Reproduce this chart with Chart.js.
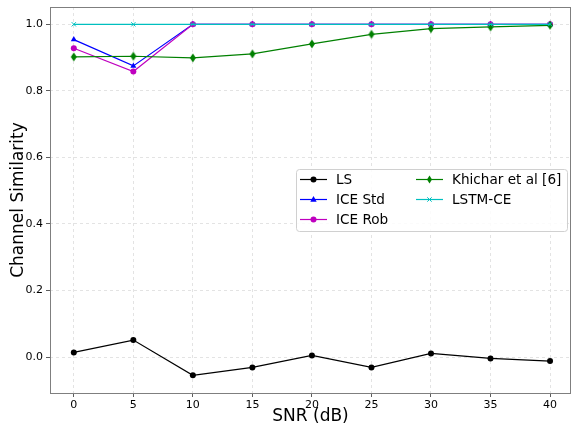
<!DOCTYPE html>
<html>
<head>
<meta charset="utf-8">
<script src="https://cdn.jsdelivr.net/npm/chart.js@4"></script>
<style>
  html, body { margin: 0; padding: 0; background: #fff; overflow: hidden; }
  #wrap { width: 571px; height: 430px; overflow: hidden; }
  #chart { display: block; }
</style>
</head>
<body>
<div id="wrap"><canvas id="chart" width="576" height="430"></canvas></div>
<script>
// SNR points (dB)
const snr = [0, 5, 10, 15, 20, 25, 30, 35, 40];
const xTicks = [0, 5, 10, 15, 20, 25, 30, 35, 40];
const yTicks = [0.0, 0.2, 0.4, 0.6, 0.8, 1.0];

const lsVals      = [0.014, 0.051, -0.055, -0.031, 0.005, -0.031, 0.011, -0.004, -0.012];
const iceStdVals  = [0.954, 0.875, 1.0, 1.0, 1.0, 1.0, 1.0, 1.0, 1.0];
const iceRobVals  = [0.928, 0.858, 1.0, 1.0, 1.0, 1.0, 1.0, 1.0, 1.0];
const khicharVals = [0.902, 0.904, 0.899, 0.911, 0.941, 0.970, 0.987, 0.992, 0.997];
const lstmVals    = [1.0, 1.0, 1.0, 1.0, 1.0, 1.0, 1.0, 1.0, 1.0];

const FONT = "'DejaVu Sans', sans-serif";

// thin diamond marker (matplotlib 'd')
function thinDiamond(color) {
    const c = document.createElement('canvas');
    c.width = 8; c.height = 10;
    const g = c.getContext('2d');
    g.fillStyle = color;
    g.beginPath();
    g.moveTo(4, 0.5); g.lineTo(7, 5); g.lineTo(4, 9.5); g.lineTo(1, 5);
    g.closePath();
    g.fill();
    return c;
}

function series(label, vals, color, style, radius, order) {
    return {
        label: label,
        data: snr.map((x, i) => ({ x: x, y: vals[i] })),
        borderColor: color,
        backgroundColor: color,
        pointBackgroundColor: color,
        pointBorderColor: color,
        pointStyle: style,
        pointRadius: radius,
        pointBorderWidth: style === 'crossRot' ? 1 : 0,
        borderWidth: 1.2,
        tension: 0,
        order: order
    };
}

const datasets = [
    series('LS', lsVals, '#000000', 'circle', 3, 4),
    series('ICE Std', iceStdVals, '#0000ff', 'triangle', 3.5, 3),
    series('ICE Rob', iceRobVals, '#bf00bf', 'circle', 3, 2),
    series('Khichar et al [6]', khicharVals, '#008000', thinDiamond('#008000'), 4, 1),
    series('LSTM-CE', lstmVals, '#00bfbf', 'crossRot', 3, 0)
];

// box around the plot area (all four spines)
const frame = {
    id: 'frame',
    afterDatasetsDraw(chart) {
        const a = chart.chartArea, ctx = chart.ctx;
        ctx.save();
        ctx.strokeStyle = '#7f7f7f';
        ctx.lineWidth = 1;
        ctx.strokeRect(a.left + 0.5, a.top + 0.5, a.right - a.left - 1, a.bottom - a.top);
        ctx.restore();
    }
};

function marker(ctx, style, x, y, color) {
    ctx.fillStyle = color;
    ctx.strokeStyle = color;
    ctx.beginPath();
    if (style === 'circle') {
        ctx.arc(x, y, 3, 0, Math.PI * 2);
        ctx.fill();
    } else if (style === 'triangle') {
        ctx.moveTo(x, y - 3.5); ctx.lineTo(x + 3.2, y + 2.2); ctx.lineTo(x - 3.2, y + 2.2);
        ctx.closePath(); ctx.fill();
    } else if (style === 'crossRot') {
        ctx.lineWidth = 1;
        ctx.moveTo(x - 2.2, y - 2.2); ctx.lineTo(x + 2.2, y + 2.2);
        ctx.moveTo(x + 2.2, y - 2.2); ctx.lineTo(x - 2.2, y + 2.2);
        ctx.stroke();
    } else {
        ctx.moveTo(x, y - 4); ctx.lineTo(x + 2.5, y); ctx.lineTo(x, y + 4); ctx.lineTo(x - 2.5, y);
        ctx.closePath(); ctx.fill();
    }
}

// two-column legend like matplotlib's ncol=2
const legendBox = {
    id: 'legendBox',
    afterDraw(chart) {
        const ctx = chart.ctx;
        const bx = 296, by = 169, bw = 271, bh = 62;
        ctx.save();
        ctx.fillStyle = 'rgba(255,255,255,0.85)';
        ctx.strokeStyle = '#d0d0d0';
        ctx.lineWidth = 1;
        ctx.beginPath();
        ctx.roundRect(bx + 0.5, by + 0.5, bw, bh, 3);
        ctx.fill();
        ctx.stroke();
        const cols = [[0, 1, 2], [3, 4]];
        const colX = [300, 416];
        ctx.font = '13.6px ' + FONT;
        ctx.textBaseline = 'middle';
        cols.forEach((idxs, c) => {
            idxs.forEach((di, r) => {
                const ds = chart.data.datasets[di];
                const y = 179.5 + r * 20;
                const x0 = colX[c];
                ctx.strokeStyle = ds.borderColor;
                ctx.lineWidth = 1.2;
                ctx.beginPath();
                ctx.moveTo(x0, y); ctx.lineTo(x0 + 27, y);
                ctx.stroke();
                const st = typeof ds.pointStyle === 'string' ? ds.pointStyle : 'diamond';
                marker(ctx, st, x0 + 13.5, y, ds.borderColor);
                ctx.fillStyle = '#000';
                ctx.fillText(ds.label, x0 + 36, y + 1);
            });
        });
        ctx.restore();
    }
};

new Chart(document.getElementById('chart').getContext('2d'), {
    type: 'line',
    data: { datasets: datasets },
    options: {
        animation: false,
        responsive: false,
        layout: { padding: { top: 7, right: 0, left: 0, bottom: 0 } },
        plugins: { legend: { display: false }, tooltip: { enabled: false } },
        scales: {
            x: {
                type: 'linear',
                min: -2,
                max: 41.76,
                afterBuildTicks: s => { s.ticks = xTicks.map(v => ({ value: v })); },
                afterFit: s => { s.height = 37; s.paddingLeft = 0; s.paddingRight = 0; },
                ticks: {
                    color: '#000',
                    font: { family: FONT, size: 11 },
                    padding: 2,
                    maxRotation: 0,
                    callback: v => String(v)
                },
                grid: { color: '#dcdcdc', lineWidth: 0.8, tickColor: '#333', tickLength: 4, tickBorderDash: [] },
                border: { display: false, dash: [3, 3] },
                title: {
                    display: true,
                    text: 'SNR (dB)',
                    color: '#000',
                    font: { family: FONT, size: 17 },
                    padding: { top: 0, bottom: 3 }
                }
            },
            y: {
                type: 'linear',
                min: -0.108,
                max: 1.052,
                afterBuildTicks: s => { s.ticks = yTicks.map(v => ({ value: v })); },
                afterFit: s => { s.width = 50; s.paddingTop = 0; s.paddingBottom = 0; },
                ticks: {
                    color: '#000',
                    font: { family: FONT, size: 11 },
                    padding: 3,
                    callback: v => v.toFixed(1)
                },
                grid: { color: '#dcdcdc', lineWidth: 0.8, tickColor: '#333', tickLength: 4, tickBorderDash: [] },
                border: { display: false, dash: [3, 3] },
                title: {
                    display: true,
                    text: 'Channel Similarity',
                    color: '#000',
                    font: { family: FONT, size: 17 },
                    padding: { top: 8, bottom: 0 }
                }
            }
        }
    },
    plugins: [frame, legendBox]
});
</script>
</body>
</html>
